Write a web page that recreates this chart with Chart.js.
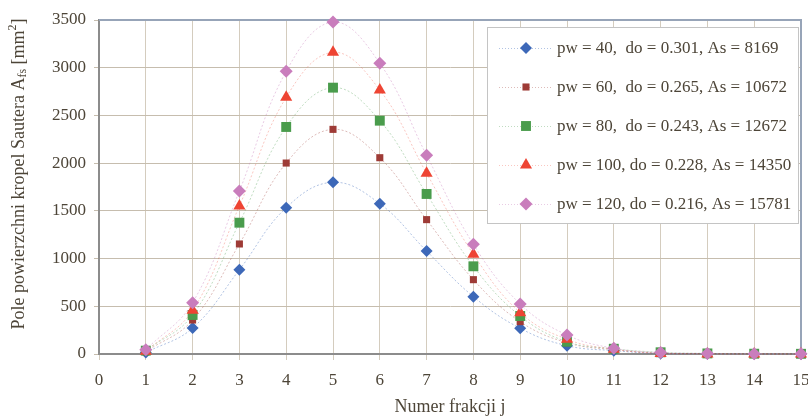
<!DOCTYPE html>
<html>
<head>
<meta charset="utf-8">
<script src="https://cdn.jsdelivr.net/npm/chart.js@4"></script>
<style>
  body { margin: 0; background: #fff; }
  #wrap { width: 808px; height: 418px; }
</style>
</head>
<body>
<div id="wrap"><canvas id="sauterChart" width="808" height="418"></canvas></div>
<script>
// numer frakcji j
const fractions = [1, 2, 3, 4, 5, 6, 7, 8, 9, 10, 11, 12, 13, 14, 15];
const seriesLabels = [
    "pw = 40,  do = 0.301, As = 8169",
    "pw = 60,  do = 0.265, As = 10672",
    "pw = 80,  do = 0.243, As = 12672",
    "pw = 100, do = 0.228, As = 14350",
    "pw = 120, do = 0.216, As = 15781"
];
const pw40 = [15, 272, 883, 1533, 1799, 1575, 1079, 601, 269, 87, 35, 5, 3, 1, 1];
const pw60 = [25, 356, 1153, 2001, 2354, 2057, 1408, 779, 339, 118, 45, 10, 4, 2, 1];
const pw80 = [35, 409, 1376, 2379, 2791, 2445, 1677, 919, 398, 129, 55, 18, 6, 3, 2];
const pw100 = [30, 458, 1551, 2690, 3161, 2766, 1893, 1045, 433, 154, 50, 5, 1, 0, 0];
const pw120 = [45, 538, 1708, 2962, 3479, 3046, 2082, 1149, 524, 199, 60, 15, 5, 3, 2];
const xTicks = [0, 1, 2, 3, 4, 5, 6, 7, 8, 9, 10, 11, 12, 13, 14, 15];
const yTicks = [0, 500, 1000, 1500, 2000, 2500, 3000, 3500];

const textColor = "#4d4538";
const serif = "'Liberation Serif', 'Times New Roman', serif";

const styles = [
    { color: "#3d68b8", line: "rgba(61,104,184,0.4)", point: "rectRot", r: 6 },
    { color: "#9e3b36", line: "rgba(158,59,54,0.35)", point: "rect", r: 5 },
    { color: "#4a9c4c", line: "rgba(74,156,76,0.35)", point: "rect", r: 7 },
    { color: "#ee4433", line: "rgba(238,68,51,0.3)", point: "triangle", r: 7 },
    { color: "#c97dbc", line: "rgba(201,125,188,0.4)", point: "rectRot", r: 6.5 }
];
const allSeries = [pw40, pw60, pw80, pw100, pw120];

const datasets = allSeries.map(function(vals, i) {
    const s = styles[i];
    return {
        label: seriesLabels[i],
        data: vals.map(function(v, k) { return { x: fractions[k], y: v }; }),
        borderColor: s.line,
        borderWidth: 1,
        borderDash: [2, 2],
        tension: 0.4,
        pointStyle: s.point,
        pointRadius: s.r,
        pointBackgroundColor: s.color,
        pointBorderColor: s.color,
        pointBorderWidth: 0,
        clip: 12,
        order: 4 - i
    };
});

// frame around the plot area + y title with sub/superscript + legend box
const extras = {
    id: "extras",
    beforeDatasetsDraw(chart) {
        const a = chart.chartArea;
        const ctx = chart.ctx;
        ctx.save();
        ctx.strokeStyle = "#97a4b8";
        ctx.lineWidth = 2;
        ctx.beginPath();
        ctx.moveTo(a.left, a.top);
        ctx.lineTo(a.right, a.top);
        ctx.lineTo(a.right, a.bottom);
        ctx.stroke();
        ctx.restore();
    },
    afterDraw(chart) {
        const ctx = chart.ctx;
        ctx.save();
        // y axis title
        ctx.translate(19, 174);
        ctx.rotate(-Math.PI / 2);
        ctx.fillStyle = textColor;
        ctx.textBaseline = "middle";
        const big = "18px " + serif, small = "12px " + serif;
        const parts = [
            { t: "Pole powierzchni kropel Sautera A", f: big, dy: 0 },
            { t: "fs", f: small, dy: 4 },
            { t: " [mm", f: big, dy: 0 },
            { t: "2", f: small, dy: -6 },
            { t: "]", f: big, dy: 0 }
        ];
        let total = 0;
        parts.forEach(function(p) { ctx.font = p.f; p.w = ctx.measureText(p.t).width; total += p.w; });
        let x = -total / 2;
        parts.forEach(function(p) { ctx.font = p.f; ctx.fillText(p.t, x, p.dy); x += p.w; });
        ctx.restore();

        // legend
        ctx.save();
        const bx = 487, by = 27, bw = 311, bh = 196;
        ctx.fillStyle = "#ffffff";
        ctx.fillRect(bx, by, bw, bh);
        ctx.strokeStyle = "#c4c4c4";
        ctx.lineWidth = 1;
        ctx.strokeRect(bx + 0.5, by + 0.5, bw, bh);
        chart.data.datasets.forEach(function(ds, i) {
            const y = 48 + i * 39;
            ctx.strokeStyle = ds.borderColor;
            ctx.setLineDash([1, 2]);
            ctx.beginPath();
            ctx.moveTo(499, y + 0.5);
            ctx.lineTo(552, y + 0.5);
            ctx.stroke();
            ctx.setLineDash([]);
            ctx.fillStyle = ds.pointBackgroundColor;
            Chart.helpers.drawPoint(ctx, {
                pointStyle: ds.pointStyle, radius: ds.pointRadius, rotation: 0, borderWidth: 0
            }, 526, y);
            ctx.fillStyle = textColor;
            ctx.font = "17px " + serif;
            ctx.textBaseline = "middle";
            ctx.fillText(ds.label, 557, y + 1);
        });
        ctx.restore();
    }
};

new Chart(document.getElementById("sauterChart"), {
    type: "line",
    data: { datasets: datasets },
    plugins: [extras],
    options: {
        responsive: false,
        animation: false,
        layout: { padding: { top: 20, right: 3, left: 0, bottom: 0 } },
        plugins: { legend: { display: false }, tooltip: { enabled: false } },
        scales: {
            x: {
                type: "linear",
                min: 0,
                max: 15,
                afterBuildTicks: function(scale) { scale.ticks = xTicks.map(function(v) { return { value: v }; }); },
                afterFit: function(scale) { scale.height = 64; scale.paddingRight = 0; scale.paddingLeft = 0; },
                grid: { color: "#d4ccbe", lineWidth: 1, tickLength: 6, drawOnChartArea: true },
                border: { color: "#8c8c8c", width: 2 },
                ticks: { color: textColor, padding: 10, font: { family: serif, size: 17 }, maxRotation: 0, autoSkip: false,
                         callback: function(v) { return String(v); } },
                title: { display: true, text: "Numer frakcji j", color: textColor, font: { family: serif, size: 18 }, padding: { top: 0, bottom: 0 } }
            },
            y: {
                min: 0,
                max: 3500,
                afterBuildTicks: function(scale) { scale.ticks = yTicks.map(function(v) { return { value: v }; }); },
                afterFit: function(scale) { scale.width = 99; scale.paddingTop = 0; scale.paddingBottom = 0; },
                grid: { color: "#c6bdae", lineWidth: 1, tickLength: 5 },
                border: { color: "#8c8c8c", width: 2 },
                ticks: { color: textColor, padding: 8, font: { family: serif, size: 17 },
                         callback: function(v) { return String(v); } }
            }
        }
    }
});
</script>
</body>
</html>
